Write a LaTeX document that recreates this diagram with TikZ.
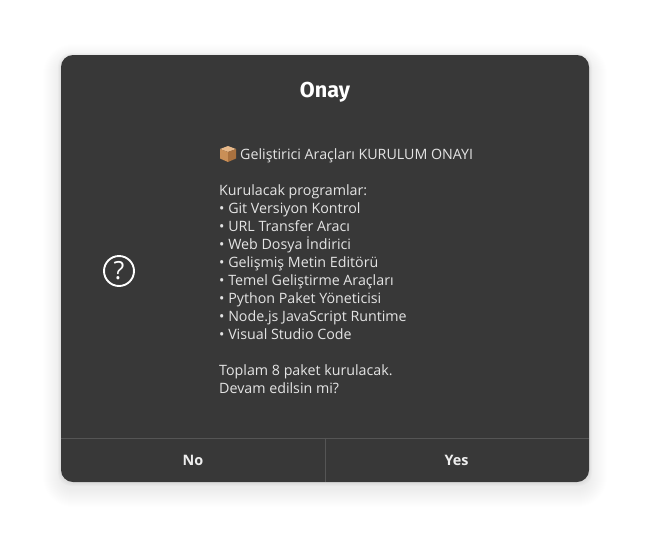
\documentclass[tikz,border=0pt]{standalone}
\usepackage{fontspec}
\setmainfont{Open Sans}
\newfontfamily\titlefont{Fira Sans}[Scale=1]
\definecolor{card}{HTML}{383838}
\definecolor{bodytext}{HTML}{E4E4E4}
\definecolor{btntext}{HTML}{EEEEEE}
\definecolor{rulecol}{HTML}{555555}
\definecolor{boxa}{HTML}{C98F57}
\definecolor{boxb}{HTML}{E8B98A}
\definecolor{boxc}{HTML}{A9713F}
\tikzset{
  body/.style={anchor=base west,inner sep=0pt,text=bodytext,font=\fontsize{14.25}{18}\selectfont},
  btn/.style={anchor=center,inner sep=0pt,text=btntext,font=\fontsize{14.4}{18}\selectfont\bfseries},
  rule/.style={draw=rulecol,line width=1pt}
}
\begin{document}
\begin{tikzpicture}[x=1pt,y=-1pt]
\useasboundingbox (0,0) rectangle (650,549);
\fill[white] (0,0) rectangle (650,549);
% shadow
\foreach \s in {32,31,...,1}{
  \fill[black,opacity=0.0016,rounded corners=12pt+\s*1pt] (61-\s,55+7-\s) rectangle (589+\s,482+7+\s);
}
\foreach \s in {18,17,...,1}{
  \fill[black,opacity=0.0028,rounded corners=12pt+\s*1pt] (61-\s,55+7-\s) rectangle (589+\s,482+7+\s);
}
\foreach \s in {3,2,1}{
  \fill[black,opacity=0.02,rounded corners=13pt] (61-\s,55+1-\s) rectangle (589+\s,482+1+\s);
}
\fill[card,rounded corners=12pt] (61,55) rectangle (589,482);
\coordinate (dl) at (61,438.5);
\coordinate (dr) at (589,438.5);
\coordinate (vt) at (325.5,438.5);
\coordinate (vb) at (325.5,482);
\draw[rule] (dl) -- (dr);
\draw[rule] (vt) -- (vb);
\node[anchor=center,inner sep=0pt,text=white,font=\titlefont\fontsize{21.6}{24}\selectfont\bfseries] (title) at (325,92.5) {Onay};
% question icon
\node[circle,draw=white,line width=1.9pt,minimum size=30pt,inner sep=0pt,text=white,font=\fontsize{25}{26}\selectfont] (q) at (119,271) {?};
% package emoji
\fill[boxb] (220,149) -- (228,146) -- (236,149) -- (228,152) -- cycle;
\fill[boxa] (220,149) -- (228,152) -- (228,162) -- (220,158.5) -- cycle;
\fill[boxc] (228,152) -- (236,149) -- (236,158.5) -- (228,162) -- cycle;
\node[body] (l1) at (240,159) {Geliştirici Araçları KURULUM ONAYI};
\node[body] (l2) at (219,195) {Kurulacak programlar:};
\node[body] (l3) at (219,213) {• Git Versiyon Kontrol};
\node[body] (l4) at (219,231) {• URL Transfer Aracı};
\node[body] (l5) at (219,249) {• Web Dosya İndirici};
\node[body] (l6) at (219,267) {• Gelişmiş Metin Editörü};
\node[body] (l7) at (219,285) {• Temel Geliştirme Araçları};
\node[body] (l8) at (219,303) {• Python Paket Yöneticisi};
\node[body] (l9) at (219,321) {• Node.js JavaScript Runtime};
\node[body] (l10) at (219,339) {• Visual Studio Code};
\node[body] (l11) at (219,375) {Toplam 8 paket kurulacak.};
\node[body] (l12) at (219,393) {Devam edilsin mi?};
\node[btn] (no) at (193,460) {No};
\node[btn] (yes) at (456.5,460) {Yes};
\end{tikzpicture}
\end{document}
